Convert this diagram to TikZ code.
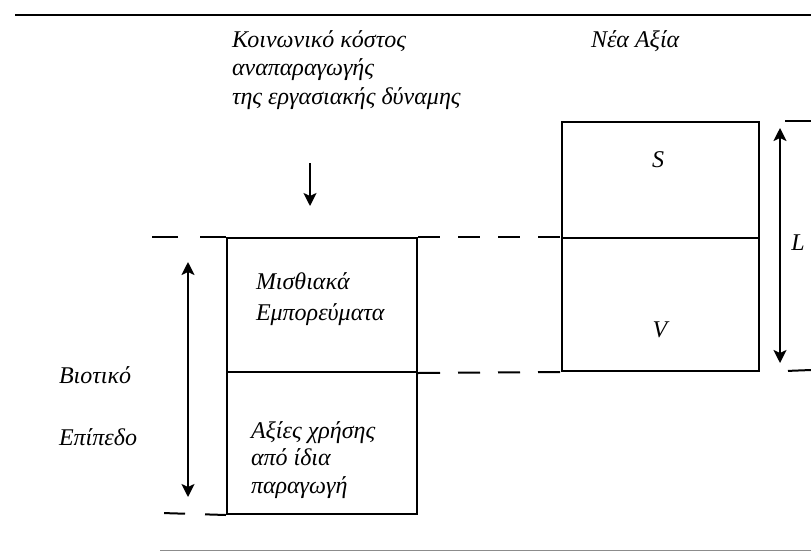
\documentclass[tikz,border=0pt]{standalone}
\usepackage{fontspec}
\setmainfont{Liberation Serif}
\usetikzlibrary{arrows.meta}

\tikzset{
  txt/.style={font=\itshape\fontsize{24}{28.5}\selectfont, inner sep=0pt, anchor=west, align=left},
  part/.style={draw, line width=2pt, inner sep=0pt, anchor=north west, minimum width=190pt},
  rpart/.style={draw, line width=2pt, inner sep=0pt, anchor=north west, minimum width=197pt},
  lvl/.style={line width=2pt, dash pattern=on 22pt off 18pt},
}

\begin{document}
\begin{tikzpicture}[x=1pt,y=-1pt,line width=2pt,>={Stealth[length=13pt,width=13pt,inset=3pt]},color=black]
		\useasboundingbox (0,0) rectangle (811,552);
		% rules above and below
		\draw[line width=2pt] (15,15) -- (811,15);
		\draw[line width=0.8pt,black!45] (160,550) -- (811,550);
		% texts
		\node[txt] (cost) at (231,70){Κοινωνικό κόστος\\αναπαραγωγής\\της εργασιακής δύναμης};
		\node[txt] (new) at (590,41){Νέα Αξία};
		\node[txt] (bio) at (58,375){Βιοτικό};
		\node[txt] (level) at (58,437){Επίπεδο};
		% left column
		\node[part, minimum height=134pt] (wage) at (226,237){};
		\node[part, minimum height=142pt] (own) at (226,371){};
		\node[txt, font=\itshape\fontsize{24}{31.5}\selectfont] (wagetxt) at (255,299){Μισθιακά\\Εμπορεύματα};
		\node[txt, font=\itshape\fontsize{24}{27.5}\selectfont] (owntxt) at (250,460){Αξίες χρήσης\\από ίδια\\παραγωγή};
		% right column
		\node[rpart, minimum height=116pt] (s) at (561,121){};
		\node[rpart, minimum height=133pt] (v) at (561,237){};
		\node[txt, anchor=center] (stxt) at (658,160){S};
		\node[txt, anchor=center] (vtxt) at (660,330){V};
		\node[txt, anchor=center] (ltxt) at (798,243){L};
		% levels
		\draw[lvl] (wage.north east) -- (v.north west);
		\draw[lvl] (wage.south east) -- (v.south west);
		\draw[lvl, dash pattern=on 26pt off 22pt] (wage.north west) -- (152,237);
		\draw[lvl, dash pattern=on 21pt off 20pt] (own.south west) -- (162,513);
		\draw[lvl, dash pattern=on 0pt off 25pt on 30pt] (s.north east) -- (811,121);
		\draw[lvl, dash pattern=on 0pt off 28pt on 30pt] (v.south east) -- (811,370);
		% arrows
		\coordinate (ctop) at (310,163);
		\coordinate (cbot) at (310,206);
		\draw[->] (ctop) -- (cbot);
		\coordinate (bt) at (188,262);
		\coordinate (bb) at (188,497);
		\draw[<->] (bt) -- (bb);
		\coordinate (lt) at (780,128);
		\coordinate (lb) at (780,363);
		\draw[<->] (lt) -- (lb);
\end{tikzpicture}
\end{document}
